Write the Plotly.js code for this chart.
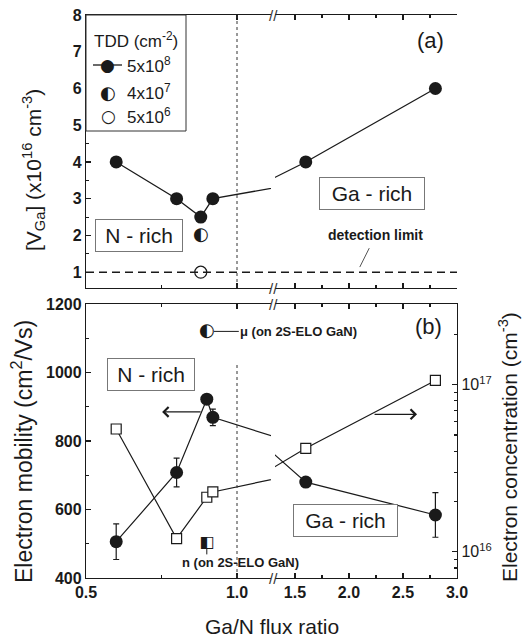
<!DOCTYPE html>
<html><head><meta charset="utf-8">
<script src="https://cdn.plot.ly/plotly-3.0.1.min.js"></script>
<style>html,body{margin:0;padding:0;background:#fff;}#chart{width:522px;height:637px;}</style>
</head><body><div id="chart"></div>
<script>
// ---------- Panel (a): Ga vacancy concentration, x10^16 cm^-3 ----------
const vgaFlux = [0.6, 0.8, 0.88, 0.92, 1.6, 2.8];        // TDD 5x10^8
const vgaConc = [4.0, 3.0, 2.5, 3.0, 4.0, 6.0];
const vgaMidFlux = [0.88];                                 // TDD 4x10^7
const vgaMidConc = [2.0];
const vgaLowFlux = [0.88];                                 // TDD 5x10^6
const vgaLowConc = [1.0];
const detectionLimit = 1.0;
const stoichRatio = 1.0;

// ---------- Panel (b): Hall data ----------
const hallFlux = [0.6, 0.8, 0.9, 0.92, 1.6, 2.8];
const mobility = [506, 708, 922, 869, 680, 584];           // cm^2/Vs
const mobilityErr = [52, 42, 0, 24, 0, 65];
const concentration = [5.43e16, 1.20e16, 2.12e16, 2.28e16, 4.16e16, 1.06e17]; // cm^-3
const eloFlux = [0.9];                                     // on 2S-ELO GaN
const eloMobility = [1120];
const eloConc = [1.13e16];

// ---------- ticks / labels ----------
const xTickVals = [0.5, 1.0, 1.5, 2.0, 2.5, 3.0];
const xTickText = ['0.5', '1.0', '1.5', '2.0', '2.5', '3.0'];
const xMinorVals = [0.75, 1.75, 2.25, 2.75];
const vgaTickVals = [1, 2, 3, 4, 5, 6, 7, 8];
const vgaMinorVals = [0.5, 1.5, 2.5, 3.5, 4.5, 5.5, 6.5, 7.5];
const muTickVals = [400, 600, 800, 1000, 1200];
const muMinorVals = [500, 700, 900, 1100];
const nTickVals = [1e16, 1e17];
const nTickText = ['10<sup>16</sup>', '10<sup>17</sup>'];
const nMinorVals = [8e15, 9e15, 2e16, 3e16, 4e16, 5e16, 6e16, 7e16, 8e16, 9e16, 2e17, 3e17];
const legendTitle = 'TDD (cm<sup>-2</sup>)';
const legendLabels = ['5x10<sup>8</sup>', '4x10<sup>7</sup>', '5x10<sup>6</sup>'];

// ---------- styling / geometry ----------
const FONT = 'Liberation Sans, Arial, Helvetica, sans-serif';
const GLYPH = 'DejaVu Sans, sans-serif';
const INK = '#1a1a1a';
const L = 86, R = 457, T = 15, B = 578;
const W = R - L, H = B - T;
const fx = px => (px - L) / W;
const fy = py => (B - py) / H;

const xDomL = [0, fx(271)], xDomR = [fx(275), 1];
const xRangeL = [0.5, 1.1126], xRangeR = [1.315, 3.0];
const yDomTop = [fy(288), 1], yDomBot = [0, fy(304)];
const vgaRange = [0.57, 8];
const muRange = [400, 1200];
const nRange = [15.843, 17.483];

const traces = [];
function addSplit(t, left, right) {
  const base = Object.assign({type: 'scatter', showlegend: false, cliponaxis: true, hoverinfo: 'skip'}, t);
  traces.push(Object.assign({}, base, {xaxis: left}));
  traces.push(Object.assign({}, base, {xaxis: right}));
}

// panel (a)
addSplit({mode: 'lines+markers', x: vgaFlux, y: vgaConc, yaxis: 'y',
  line: {color: INK, width: 1.3}, marker: {color: INK, size: 13}}, 'x', 'x2');
addSplit({mode: 'text', x: vgaMidFlux, y: vgaMidConc, yaxis: 'y', text: vgaMidFlux.map(() => '◐'),
  textposition: 'middle center', textfont: {family: GLYPH, size: 18, color: INK}}, 'x', 'x2');
addSplit({mode: 'markers', x: vgaLowFlux, y: vgaLowConc, yaxis: 'y',
  marker: {symbol: 'circle', color: 'white', size: 12, line: {color: INK, width: 1.2}}}, 'x', 'x2');

// panel (b)
addSplit({mode: 'lines+markers', x: hallFlux, y: mobility, yaxis: 'y2',
  line: {color: INK, width: 1.2}, marker: {color: INK, size: 13},
  error_y: {type: 'data', array: mobilityErr, visible: true, color: INK, thickness: 1.2, width: 3}}, 'x3', 'x4');
addSplit({mode: 'lines+markers', x: hallFlux, y: concentration, yaxis: 'y3',
  line: {color: INK, width: 1.2},
  marker: {symbol: 'square', color: 'white', size: 10, line: {color: INK, width: 1.2}}}, 'x3', 'x4');
addSplit({mode: 'text', x: eloFlux, y: eloMobility, yaxis: 'y2', text: eloFlux.map(() => '◐'),
  textposition: 'middle center', textfont: {family: GLYPH, size: 18, color: INK}}, 'x3', 'x4');
addSplit({mode: 'text', x: eloFlux, y: eloConc, yaxis: 'y3', text: eloFlux.map(() => '◧'),
  textposition: 'middle center', textfont: {family: GLYPH, size: 16, color: INK}}, 'x3', 'x4');

const axBase = {showline: true, linecolor: INK, linewidth: 1.2, ticks: 'inside', ticklen: 5,
  tickwidth: 1.1, tickcolor: INK, showgrid: false, zeroline: false, fixedrange: true, tickmode: 'array'};
const tickBold = {family: FONT, size: 16, color: INK, weight: 'bold'};
const minorX = {tickmode: 'array', tickvals: xMinorVals, ticks: 'inside', ticklen: 3, tickcolor: INK, showgrid: false};

const layout = {
  width: 522, height: 637,
  margin: {l: L, r: 522 - R, t: T, b: 637 - B, pad: 0},
  paper_bgcolor: '#fff', plot_bgcolor: 'rgba(0,0,0,0)',
  font: {family: FONT, color: INK},
  showlegend: false,
  xaxis: Object.assign({}, axBase, {domain: xDomL, range: xRangeL, anchor: 'y', mirror: 'ticks',
    tickvals: xTickVals, showticklabels: false, minor: minorX}),
  xaxis2: Object.assign({}, axBase, {domain: xDomR, range: xRangeR, anchor: 'y', mirror: 'ticks',
    tickvals: xTickVals, showticklabels: false, minor: minorX}),
  xaxis3: Object.assign({}, axBase, {domain: xDomL, range: xRangeL, anchor: 'y2', mirror: 'ticks',
    tickvals: xTickVals, ticktext: xTickText, tickfont: tickBold, minor: minorX}),
  xaxis4: Object.assign({}, axBase, {domain: xDomR, range: xRangeR, anchor: 'y2', mirror: 'ticks',
    tickvals: xTickVals, ticktext: xTickText, tickfont: tickBold, minor: minorX}),
  yaxis: Object.assign({}, axBase, {domain: yDomTop, range: vgaRange, anchor: 'x',
    tickvals: vgaTickVals, tickfont: tickBold,
    minor: {tickmode: 'array', tickvals: vgaMinorVals, ticks: 'inside', ticklen: 3, tickcolor: INK}}),
  yaxis4: Object.assign({}, axBase, {domain: yDomTop, range: vgaRange, anchor: 'x2', side: 'right', overlaying: 'y',
    tickvals: vgaTickVals, showticklabels: false,
    minor: {tickmode: 'array', tickvals: vgaMinorVals, ticks: 'inside', ticklen: 3, tickcolor: INK}}),
  yaxis2: Object.assign({}, axBase, {domain: yDomBot, range: muRange, anchor: 'x3',
    tickvals: muTickVals, tickfont: tickBold,
    minor: {tickmode: 'array', tickvals: muMinorVals, ticks: 'inside', ticklen: 3, tickcolor: INK}}),
  yaxis3: Object.assign({}, axBase, {type: 'log', domain: yDomBot, range: nRange, anchor: 'x4', side: 'right',
    overlaying: 'y2', tickvals: nTickVals, ticktext: nTickText,
    tickfont: {family: FONT, size: 16, color: INK},
    minor: {tickmode: 'array', tickvals: nMinorVals, ticks: 'inside', ticklen: 3, tickcolor: INK}}),
  shapes: [
    {type: 'line', xref: 'x', yref: 'y domain', x0: stoichRatio, x1: stoichRatio, y0: 0, y1: 1,
      line: {color: '#333', width: 1, dash: '3px,3px'}},
    {type: 'line', xref: 'x3', yref: 'y2', x0: stoichRatio, x1: stoichRatio, y0: muRange[0], y1: 1030,
      line: {color: '#333', width: 1, dash: '3px,3px'}},
    {type: 'line', xref: 'paper', yref: 'y', x0: 0, x1: 1, y0: detectionLimit, y1: detectionLimit,
      line: {color: INK, width: 1.4, dash: '8px,5px'}},
    {type: 'rect', xref: 'paper', yref: 'paper', x0: fx(86), x1: fx(186), y0: fy(131), y1: fy(15),
      line: {color: '#333', width: 1}, fillcolor: 'white', layer: 'above'},
    {type: 'line', xref: 'paper', yref: 'paper', x0: fx(93), x1: fx(122), y0: fy(65), y1: fy(65),
      line: {color: INK, width: 1.3}, layer: 'above'}
  ],
  annotations: []
};

const A = layout.annotations;
function txt(px, py, text, opts) {
  A.push(Object.assign({xref: 'paper', yref: 'paper', x: fx(px), y: fy(py), text: text, showarrow: false,
    xanchor: 'center', yanchor: 'middle', font: {family: FONT, size: 16, color: INK}}, opts || {}));
}
function boxed(px, py, text, w) {
  txt(px, py, text, {font: {family: FONT, size: 21, color: INK}, bordercolor: '#777', borderwidth: 1,
    borderpad: 4, width: w, height: 23, bgcolor: 'white'});
}

// axis titles
txt(33, 170, '[V<sub>Ga</sub>] (x10<sup>16</sup> cm<sup>-3</sup>)', {textangle: -90, font: {family: FONT, size: 21, color: INK}});
txt(22, 452, 'Electron mobility (cm<sup>2</sup>/Vs)', {textangle: -90, font: {family: FONT, size: 23, color: INK}});
txt(508, 447, 'Electron concentration (cm<sup>-3</sup>)', {textangle: -90, font: {family: FONT, size: 21, color: INK}});
txt(271.5, 626, 'Ga/N flux ratio', {font: {family: FONT, size: 21, color: INK}});

// panel tags and regime boxes
txt(430, 41, '(a)', {font: {family: FONT, size: 22, color: INK}});
txt(428, 326, '(b)', {font: {family: FONT, size: 22, color: INK}});
boxed(139, 235.5, 'N - rich', 78);
boxed(372, 193.5, 'Ga - rich', 96);
boxed(151, 374, 'N - rich', 78);
boxed(345.5, 520.5, 'Ga - rich', 95);

// legend (manual)
txt(92, 40, legendTitle, {xanchor: 'left', font: {family: FONT, size: 17, color: INK}});
txt(125, 65, legendLabels[0], {xanchor: 'left', font: {family: FONT, size: 17, color: INK}});
txt(125, 92, legendLabels[1], {xanchor: 'left', font: {family: FONT, size: 17, color: INK}});
txt(125, 116, legendLabels[2], {xanchor: 'left', font: {family: FONT, size: 17, color: INK}});
txt(107.5, 65, '●', {font: {family: GLYPH, size: 17, color: INK}});
txt(108, 92, '◐', {font: {family: GLYPH, size: 18, color: INK}});
txt(108, 116, '○', {font: {family: GLYPH, size: 17, color: INK}});

// axis-break marks
[15, 288, 304, 578].forEach(py => txt(273, py, '//', {font: {family: FONT, size: 15, color: '#333'}}));

// detection limit label with leader
A.push({xref: 'x2', yref: 'y', x: 2.10, y: 1.14, ax: 16, ay: -32, text: 'detection limit', showarrow: true,
  arrowhead: 0, arrowwidth: 1, arrowcolor: '#555', startstandoff: 4,
  font: {family: FONT, size: 14, color: INK, weight: 'bold'}});

// direction arrows
A.push({xref: 'x3', yref: 'y2', x: 0.752, y: 885, ax: 40, ay: 0, text: '', showarrow: true,
  arrowhead: 4, arrowsize: 1.6, arrowwidth: 1.2, arrowcolor: INK});
A.push({xref: 'x4', yref: 'y2', x: 2.63, y: 878, ax: -44, ay: 0, text: '', showarrow: true,
  arrowhead: 4, arrowsize: 1.6, arrowwidth: 1.2, arrowcolor: INK});

// 2S-ELO labels
A.push({xref: 'x3', yref: 'y2', x: eloFlux[0], y: eloMobility[0], ax: 92, ay: 0,
  text: 'μ (on 2S-ELO GaN)', showarrow: true, arrowhead: 0, arrowwidth: 1, arrowcolor: INK, standoff: 7,
  font: {family: FONT, size: 13, color: INK, weight: 'bold'}});
A.push({xref: 'x3', yref: 'y3', x: eloFlux[0], y: Math.log10(eloConc[0]), ax: 0, ay: 13,
  text: '', showarrow: true, arrowhead: 0, arrowwidth: 1, arrowcolor: INK, standoff: 6});
A.push({xref: 'x3', yref: 'y3', x: eloFlux[0], y: Math.log10(eloConc[0]), xshift: 34, yshift: -20,
  text: 'n (on 2S-ELO GaN)', showarrow: false,
  font: {family: FONT, size: 13, color: INK, weight: 'bold'}});

Plotly.newPlot('chart', traces, layout, {displayModeBar: false, staticPlot: true});
</script>
</body></html>
